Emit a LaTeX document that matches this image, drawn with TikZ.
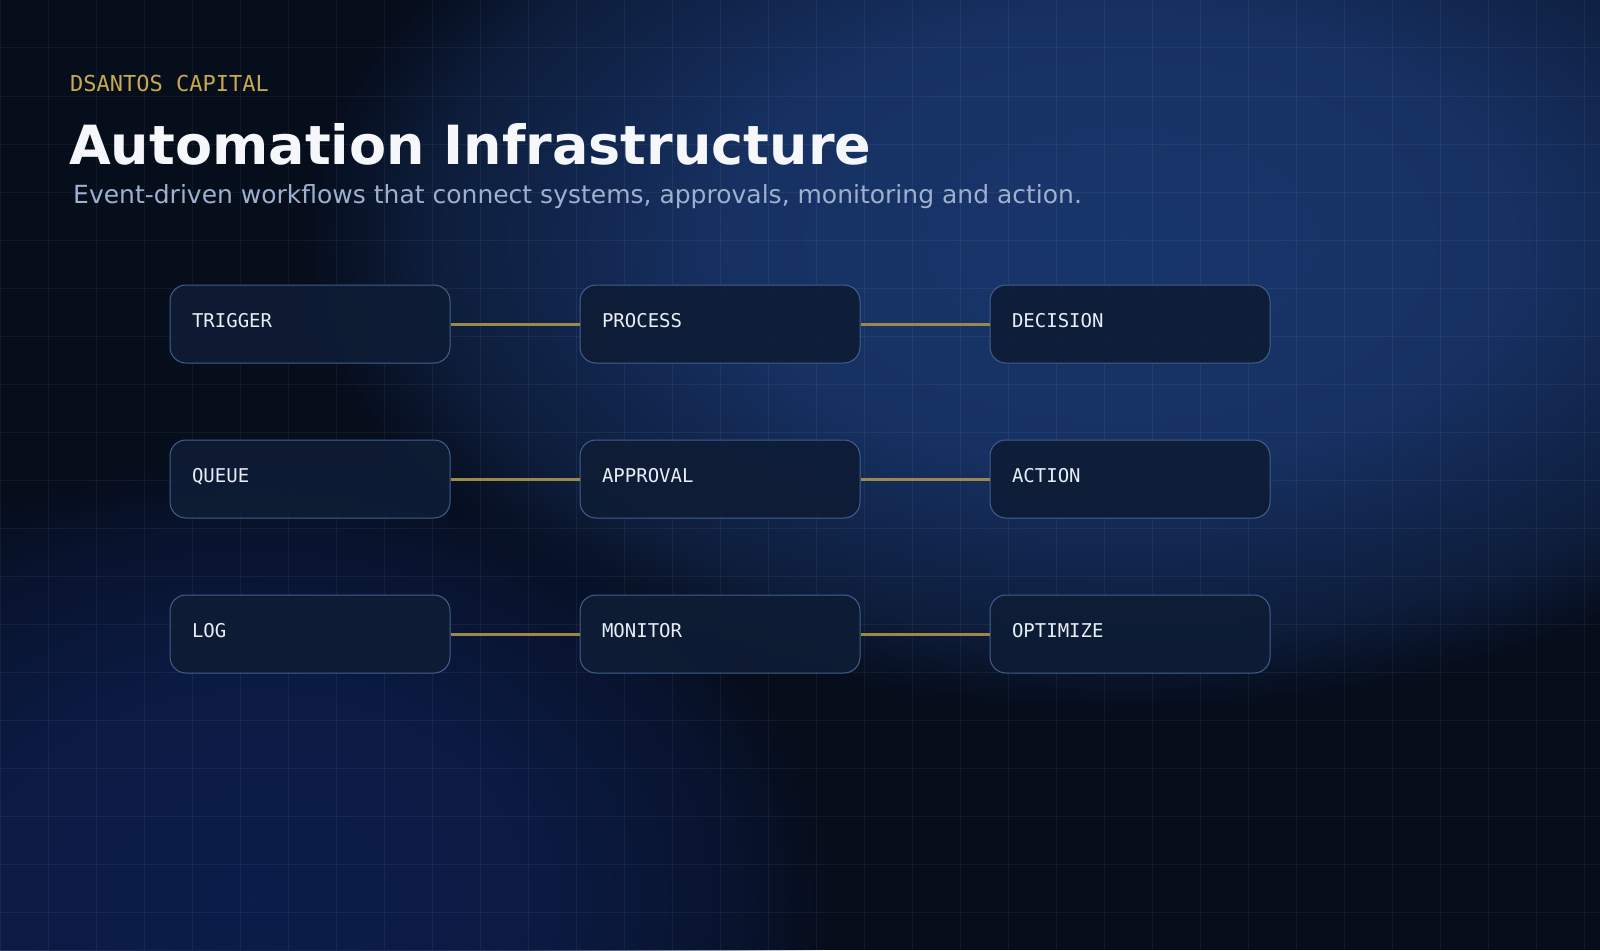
\documentclass[tikz,border=0pt]{standalone}
\usepackage{fontspec}
\setmainfont{DejaVu Sans}
\newfontfamily\monofont{DejaVu Sans Mono}
\usetikzlibrary{fadings}

\definecolor{bgbase}{HTML}{060D1B}
\definecolor{glowblue}{HTML}{19366C}
\definecolor{glowlow}{HTML}{0C1D49}
\definecolor{boxfill}{HTML}{0E1C35}
\definecolor{boxline}{HTML}{42608F}
\definecolor{boxtext}{HTML}{E8EEF7}
\definecolor{linkgold}{HTML}{9C8848}
\definecolor{brandgold}{HTML}{C9A94F}
\definecolor{subtext}{HTML}{9DB0CF}
\definecolor{titletext}{HTML}{F5F7FB}

\pgfdeclareradialshading{glowmask}{\pgfpointorigin}{color(0bp)=(transparent!0);
  color(12bp)=(transparent!12); color(21bp)=(transparent!60);
  color(25bp)=(transparent!100); color(50bp)=(transparent!100)}
\pgfdeclarefading{glowfade}{\pgfuseshading{glowmask}}

\tikzset{
  stage/.style={draw=boxline, line width=1pt, fill=boxfill, fill opacity=0.92,
    text opacity=1, rounded corners=16pt, minimum width=280pt, minimum height=78pt,
    text width=236pt, inner xsep=22pt, inner ysep=0pt, align=left,
    text height=14pt, text depth=8pt, text=boxtext,
    font=\monofont\fontsize{19}{22}\selectfont},
  link/.style={draw=linkgold, line width=3pt},
  gridline/.style={draw=white, opacity=0.05, line width=1pt},
  heading/.style={anchor=base west, inner sep=0pt},
}

\begin{document}
\begin{tikzpicture}[x=1pt, y=-1pt]
      \useasboundingbox (0,0) rectangle (1600,950);
      % backdrop
      \fill[bgbase] (0,0) rectangle (1600,950);
      \fill[glowblue, path fading=glowfade] (1120,240) ellipse (820 and 470);
      \fill[glowlow, path fading=glowfade] (250,900) ellipse (580 and 440);
      \foreach \gx in {0,48,...,1600}
        \draw[gridline] (\gx,0) -- (\gx,950);
      \foreach \gy in {0,48,...,950}
        \draw[gridline] (0,\gy) -- (1600,\gy);
      % header
      \path
        (70,91) node[heading, text=brandgold, font=\monofont\fontsize{22}{26}\selectfont] (brand) {DSANTOS CAPITAL}
        (69,164) node[heading, text=titletext, font=\bfseries\fontsize{54}{60}\selectfont] (title) {Automation Infrastructure}
        (73,203) node[heading, text=subtext, font=\fontsize{25}{30}\selectfont] (subtitle) {Event-driven workflows that connect systems, approvals, monitoring and action.};
      % stages
      \path
        (310,324) node[stage] (trigger) {TRIGGER}
        (720,324) node[stage] (process) {PROCESS}
        (1130,324) node[stage] (decision) {DECISION}
        (310,479) node[stage] (queue) {QUEUE}
        (720,479) node[stage] (approval) {APPROVAL}
        (1130,479) node[stage] (action) {ACTION}
        (310,634) node[stage] (log) {LOG}
        (720,634) node[stage] (monitor) {MONITOR}
        (1130,634) node[stage] (optimize) {OPTIMIZE};
      \begin{scope}[link]
        \draw (trigger) to (process);
        \draw (process) to (decision);
        \draw (queue) to (approval);
        \draw (approval) to (action);
        \draw (log) to (monitor);
        \draw (monitor) to (optimize);
      \end{scope}
    \end{tikzpicture}
\end{document}
